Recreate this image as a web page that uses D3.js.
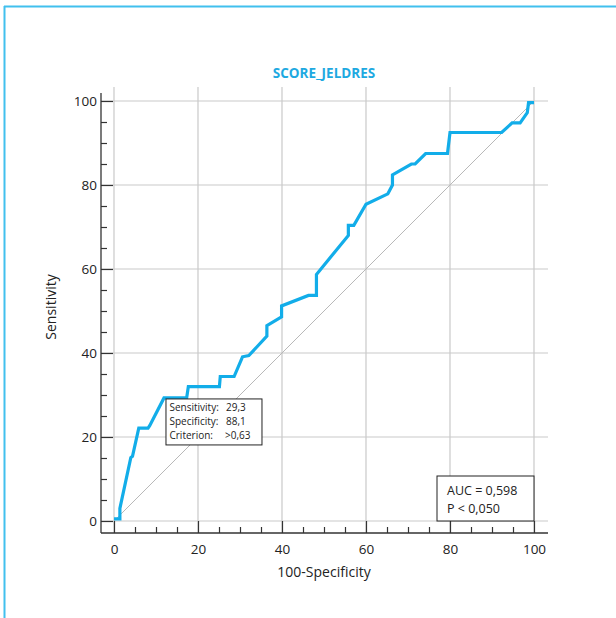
<!DOCTYPE html>
<html>
<head>
<meta charset="utf-8">
<script src="https://cdn.jsdelivr.net/npm/d3@7"></script>
<style>
  body { margin: 0; background: #fff; }
  text { font-family: "Open Sans", "Noto Sans", sans-serif; fill: #222; }
</style>
</head>
<body>
<svg id="chart"></svg>
<script>
// ROC curve points (100-Specificity, Sensitivity)
var fpr = [0, 1.4, 1.4, 4.0, 4.4, 5.9, 8.1, 8.5, 11.9, 17.3, 17.7, 25.1, 25.3, 28.6,
  30.6, 32.1, 36.4, 36.4, 39.9, 39.9, 46.3, 48.2, 48.2, 55.8, 55.8, 57.1, 60.0,
  65.2, 66.3, 66.3, 70.8, 71.7, 74.2, 79.4, 80.0, 92.3, 94.8, 96.7, 98.4, 98.7, 100];
var tpr = [0.5, 0.5, 3.0, 15.1, 15.4, 22.1, 22.1, 22.7, 29.3, 29.3, 32.0, 32.0, 34.4, 34.4,
  39.1, 39.4, 44.0, 46.5, 48.6, 51.2, 53.7, 53.7, 58.7, 68.0, 70.4, 70.4, 75.4,
  77.9, 80.0, 82.4, 85.0, 85.0, 87.5, 87.5, 92.5, 92.5, 94.8, 94.8, 97.2, 99.6, 99.6];

var majorTicks = [0, 20, 40, 60, 80, 100];
var minorTicks = d3.range(0, 101, 5).filter(function (v) { return v % 20 !== 0; });

var title = "SCORE_JELDRES";
var xTitle = "100-Specificity";
var yTitle = "Sensitivity";
var criterion = [["Sensitivity:", "29,3"], ["Specificity:", "88,1"], ["Criterion:", ">0,63"]];
var criterionPoint = [11.9, 29.3];
var statLines = ["AUC = 0,598", "P < 0,050"];

// MAIN
var width = 616, height = 618;
var svg = d3.select("#chart").attr("width", width).attr("height", height);

var blue = "#12ade9";
var grid = "#c9c9c9";
var axisCol = "#333";

var x = d3.scaleLinear().domain([0, 100]).range([114, 534]);
var y = d3.scaleLinear().domain([0, 100]).range([521, 101]);

var axisX = 101, axisY = 533;

// frame
svg.append("line").attr("x1", 4.5).attr("x2", 4.5).attr("y1", 6).attr("y2", height)
    .attr("stroke", "#41c0ee").attr("stroke-width", 2);
svg.append("line").attr("x1", 4).attr("x2", width).attr("y1", 6.5).attr("y2", 6.5)
    .attr("stroke", "#41c0ee").attr("stroke-width", 2);

// grid
svg.append("g").selectAll("line")
    .data(majorTicks).enter().append("line")
    .attr("x1", function (d) { return x(d); })
    .attr("x2", function (d) { return x(d); })
    .attr("y1", 87).attr("y2", axisY)
    .attr("stroke", grid).attr("stroke-width", 1.2);

svg.append("g").selectAll("line")
    .data(majorTicks).enter().append("line")
    .attr("y1", function (d) { return y(d); })
    .attr("y2", function (d) { return y(d); })
    .attr("x1", axisX).attr("x2", 548)
    .attr("stroke", grid).attr("stroke-width", 1.2);

// diagonal reference
svg.append("line")
    .attr("x1", x(0)).attr("y1", y(0)).attr("x2", x(100)).attr("y2", y(100))
    .attr("stroke", "#b8b8b8").attr("stroke-width", 1);

// axes
var gy = svg.append("g").attr("transform", "translate(" + axisX + ",0)")
    .call(d3.axisLeft(y).tickValues(majorTicks).tickSizeInner(-12).tickSizeOuter(0).tickPadding(4));
var gyMinor = svg.append("g").attr("transform", "translate(" + axisX + ",0)")
    .call(d3.axisLeft(y).tickValues(minorTicks).tickSizeInner(-6).tickSizeOuter(0).tickFormat(""));
var gx = svg.append("g").attr("transform", "translate(0," + axisY + ")")
    .call(d3.axisBottom(x).tickValues(majorTicks).tickSizeInner(-12).tickSizeOuter(0).tickPadding(11));
var gxMinor = svg.append("g").attr("transform", "translate(0," + axisY + ")")
    .call(d3.axisBottom(x).tickValues(minorTicks).tickSizeInner(-6).tickSizeOuter(0).tickFormat(""));

[gy, gyMinor, gx, gxMinor].forEach(function (g) {
    g.select(".domain").remove();
    g.selectAll("line").attr("stroke", axisCol).attr("stroke-width", 1.2);
    g.selectAll("text").attr("font-size", "13.5px").attr("fill", "#222")
        .attr("font-family", '"Open Sans", "Noto Sans", sans-serif');
});

svg.append("line").attr("x1", axisX).attr("x2", axisX).attr("y1", 93).attr("y2", axisY)
    .attr("stroke", axisCol).attr("stroke-width", 1.3);
svg.append("line").attr("x1", axisX).attr("x2", 548).attr("y1", axisY).attr("y2", axisY)
    .attr("stroke", axisCol).attr("stroke-width", 1.3);

// ROC curve
var pts = fpr.map(function (d, i) { return [d, tpr[i]]; });
var line = d3.line()
    .x(function (d) { return x(d[0]); })
    .y(function (d) { return y(d[1]); });

svg.append("path")
    .datum(pts)
    .attr("d", line)
    .attr("fill", "none")
    .attr("stroke", blue)
    .attr("stroke-width", 3.2)
    .attr("stroke-linejoin", "miter");

// titles
svg.append("text")
    .attr("x", 324).attr("y", 78)
    .attr("text-anchor", "middle")
    .attr("font-size", "13.5px").attr("font-weight", "bold")
    .style("fill", "#1ea9e1")
    .text(title);

svg.append("text")
    .attr("x", 324).attr("y", 577)
    .attr("text-anchor", "middle")
    .attr("font-size", "14px")
    .text(xTitle);

svg.append("text")
    .attr("transform", "translate(56,307) rotate(-90)")
    .attr("text-anchor", "middle")
    .attr("font-size", "14px")
    .text(yTitle);

// criterion box
var cx = x(criterionPoint[0]) + 2, cy = y(criterionPoint[1]) + 1;
svg.append("rect")
    .attr("x", cx).attr("y", cy).attr("width", 96).attr("height", 46)
    .attr("fill", "#fff").attr("stroke", "#222").attr("stroke-width", 1);

var crit = svg.append("g").selectAll("text").data(criterion).enter().append("text")
    .attr("y", function (d, i) { return cy + 12 + i * 13.8; })
    .attr("font-size", "10px");
crit.append("tspan")
    .attr("x", cx + 3.5)
    .text(function (d) { return d[0]; });
crit.append("tspan")
    .attr("x", function (d, i) { return cx + (i === 2 ? 59 : 60); })
    .text(function (d) { return d[1]; });

// AUC box
svg.append("rect")
    .attr("x", x(100) - 97).attr("y", y(0) - 45).attr("width", 97).attr("height", 45)
    .attr("fill", "#fff").attr("stroke", "#222").attr("stroke-width", 1);

svg.append("g").selectAll("text").data(statLines).enter().append("text")
    .attr("x", x(100) - 87)
    .attr("y", function (d, i) { return y(0) - 26 + i * 17.5; })
    .attr("font-size", "12.5px")
    .text(function (d) { return d; });
</script>
</body>
</html>
